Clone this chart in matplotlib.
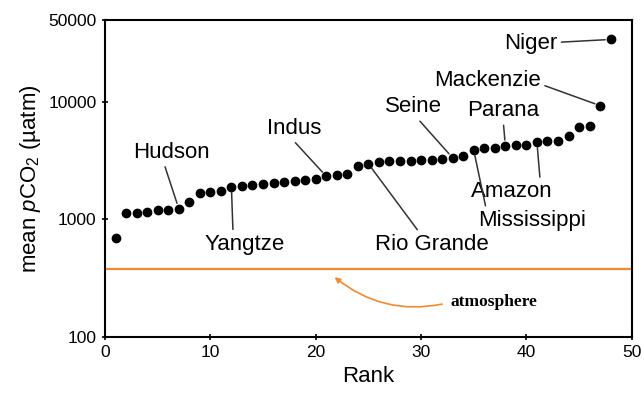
import matplotlib.pyplot as plt
import numpy as np

plt.rcParams['font.family'] = ['Liberation Sans', 'DejaVu Sans']
plt.rcParams['mathtext.fontset'] = 'custom'
plt.rcParams['mathtext.rm'] = 'Liberation Sans'
plt.rcParams['mathtext.it'] = 'Liberation Sans:italic'

# mean pCO2 of rivers, ranked
rank = np.arange(1, 49)
pco2 = [695, 1135, 1135, 1146, 1207, 1207, 1238, 1418, 1695, 1712,
        1745, 1897, 1915, 1972, 2011, 2038, 2090, 2131, 2186, 2228,
        2334, 2381, 2441, 2833, 2981, 3081, 3123, 3143, 3160, 3185,
        3222, 3297, 3342, 3460, 3890, 4064, 4064, 4259, 4343, 4343,
        4541, 4632, 4692, 5171, 6072, 6195, 9311, 34140]
atmosphere = 380

# river labels: name, rank pointed at, label position (rank, pCO2), line anchor on text
rivers = ['Hudson', 'Yangtze', 'Indus', 'Rio Grande', 'Seine', 'Parana',
          'Amazon', 'Mississippi', 'Mackenzie', 'Niger']
river_rank = [7, 12, 21, 25, 33, 38, 41, 35, 47, 48]
label_x = [6.3, 13.3, 18.0, 31.0, 29.3, 37.8, 38.6, 40.5, 36.3, 40.4]
label_y = [3740, 616, 5960, 616, 9100, 8450, 1720, 980, 15400, 31600]
relpos = [(0.4, 0.0), (0.35, 1.0), (0.45, 0.0), (0.4, 1.0), (0.55, 0.0),
          (0.5, 0.0), (0.85, 1.0), (0.08, 1.0), (1.0, 0.3), (1.0, 0.55)]

fig, ax = plt.subplots(figsize=(6.44, 4.0), dpi=100)
fig.subplots_adjust(left=0.163, right=0.981, top=0.95, bottom=0.158)

ax.set_yscale('log')
ax.axhline(atmosphere, color='#f28a30', lw=1.6, zorder=1)
ax.plot(rank, pco2, 'o', color='black', ms=6, zorder=3)

for name, r, tx, ty, rp in zip(rivers, river_rank, label_x, label_y, relpos):
    ax.annotate(name, xy=(r, pco2[r - 1]), xytext=(tx, ty),
                fontsize=16, ha='center', va='center',
                arrowprops=dict(arrowstyle='-', color='#333333', lw=1.1,
                                relpos=rp, shrinkA=1, shrinkB=4))

ax.annotate('atmosphere', xy=(21.8, 322), xytext=(36.9, 197),
            fontsize=12.5, fontweight='bold', family='Liberation Serif',
            ha='center', va='center',
            arrowprops=dict(arrowstyle='-|>', color='#f28a30', lw=1.2,
                            mutation_scale=8, relpos=(0.0, 0.5),
                            connectionstyle='arc3,rad=-0.25',
                            shrinkA=4, shrinkB=0))

ax.set_xlim(0, 50)
ax.set_ylim(100, 50000)
ax.set_xticks(np.arange(0, 51, 10))
ax.set_yticks([100, 1000, 10000, 50000])
ax.set_yticklabels(['100', '1000', '10000', '50000'])
ax.minorticks_off()
ax.tick_params(labelsize=12.5, direction='inout', length=5, width=1.2)

for s in ax.spines.values():
    s.set_linewidth(1.5)

ax.set_xlabel('Rank', fontsize=16)
ax.set_ylabel('mean $p$CO$_2$ (µatm)', fontsize=16)

plt.savefig('out.png')
